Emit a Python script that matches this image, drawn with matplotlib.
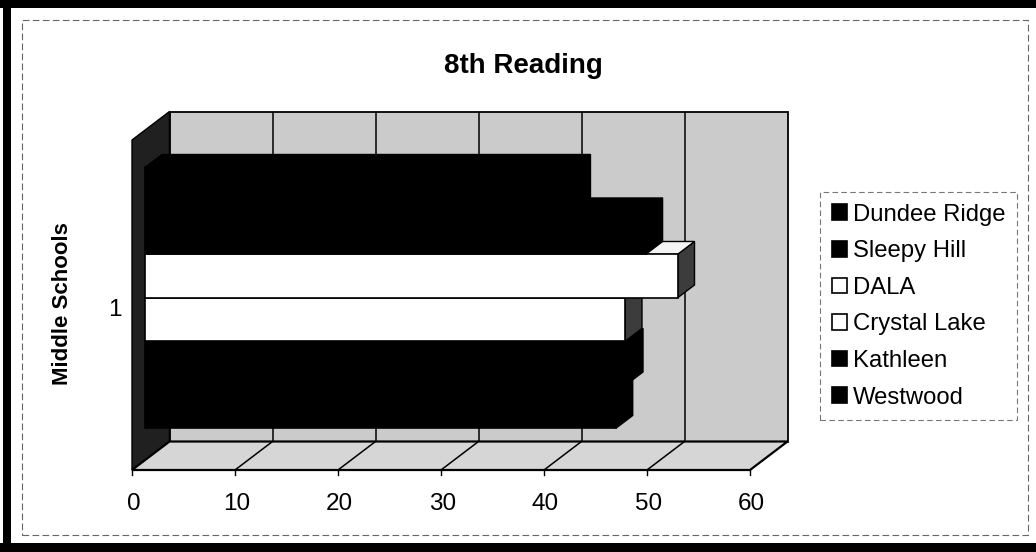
import matplotlib
matplotlib.use("Agg")
import matplotlib.pyplot as plt
from matplotlib.patches import Polygon, Rectangle, Patch

# ---------------- data ----------------
schools = ["Dundee Ridge", "Sleepy Hill", "DALA", "Crystal Lake", "Kathleen", "Westwood"]
scores = [41.6, 48.6, 51.7, 46.6, 46.7, 45.7]
bar_colors = ["black", "black", "white", "white", "black", "black"]
x_ticks = [0, 10, 20, 30, 40, 50, 60]
category_labels = ["1"]
title = "8th Reading"
y_title = "Middle Schools"

# ---------------- figure ----------------
W, H, DPI = 1036, 552, 100
plt.rcParams["font.family"] = ["Liberation Sans", "DejaVu Sans"]
fig = plt.figure(figsize=(W / DPI, H / DPI), dpi=DPI)
fig.patch.set_facecolor("white")

PT = 72.0 / DPI  # points per pixel

# outer black scan border and dashed chart-area border
for (x0, y0, x1, y1) in [(3, 0, 11, H), (0, 0, W, 8), (0, 543, W, H)]:
    fig.patches.append(Rectangle((x0 / W, 1 - y1 / H), (x1 - x0) / W, (y1 - y0) / H,
                                 transform=fig.transFigure, facecolor="black",
                                 edgecolor="none", zorder=0))
fig.patches.append(Rectangle((22 / W, 1 - 535 / H), (1028 - 22) / W, (535 - 20) / H,
                             transform=fig.transFigure, facecolor="none",
                             edgecolor="#666666", lw=0.8, linestyle=(0, (6, 3)), zorder=1))

# plot axes: front floor edge 0..60 -> px 132..750, floor y=470, wall top y=140
AX_L, AX_R, AX_B, AX_T = 132, 750, 470, 140
ax = fig.add_axes([AX_L / W, 1 - AX_B / H, (AX_R - AX_L) / W, (AX_B - AX_T) / H])
XMAX = x_ticks[-1]
YTOP = (AX_B - AX_T) / 43.5  # wall height in bar-slot units
ax.set_xlim(0, XMAX)
ax.set_ylim(0, YTOP)
ax.axis("off")

XPX = (AX_R - AX_L) / XMAX          # px per value unit
YPX = (AX_B - AX_T) / YTOP          # px per slot unit
DXd = 37.5 / XPX                    # depth offset in data units
DYd = 28.5 / YPX
F0, F1 = 0.35, 0.80                 # bar front/back depth fractions
BASE = 0.729                        # bottom of lowest bar (slot units)


def proj(v, y, f):
    return (v + f * DXd, y + f * DYd)


def poly(pts, fc, ec="black", lw=1.0, z=1):
    p = Polygon([proj(*q) for q in pts], closed=True, facecolor=fc, edgecolor=ec,
                lw=lw, zorder=z, clip_on=False, joinstyle="miter")
    ax.add_patch(p)


def seg(a, b, lw=1.0, z=2):
    pa, pb = proj(*a), proj(*b)
    ax.plot([pa[0], pb[0]], [pa[1], pb[1]], color="black", lw=lw, zorder=z,
            clip_on=False, solid_capstyle="butt")


# walls and floor
poly([(0, 0, 1), (XMAX, 0, 1), (XMAX, YTOP, 1), (0, YTOP, 1)], "#cbcbcb", lw=1.3, z=1)
poly([(0, 0, 0), (0, YTOP, 0), (0, YTOP, 1), (0, 0, 1)], "#202020", lw=1.0, z=1)
poly([(0, 0, 0), (XMAX, 0, 0), (XMAX, 0, 1), (0, 0, 1)], "#d6d6d6", lw=1.6, z=1)
for t in x_ticks[1:-1]:
    seg((t, 0, 1), (t, YTOP, 1), lw=1.1, z=2)
    seg((t, 0, 0), (t, 0, 1), lw=1.1, z=2)
for t in x_ticks:
    p = proj(t, 0, 0)
    ax.plot([p[0], p[0]], [p[1], p[1] - 5 / YPX], color="black", lw=1.0,
            clip_on=False, zorder=2)

# bars: drawn from bottom to top so upper front faces hide lower top faces
n = len(schools)
for i in range(n - 1, -1, -1):
    v = scores[i]
    col = bar_colors[i]
    ylo = BASE + (n - 1 - i)
    yhi = ylo + 1.0
    side_c = "black" if col == "black" else "#3c3c3c"
    top_c = "black" if col == "black" else "#f4f4f4"
    poly([(v, ylo, F0), (v, yhi, F0), (v, yhi, F1), (v, ylo, F1)], side_c, lw=1.0, z=3)
    poly([(0, yhi, F0), (v, yhi, F0), (v, yhi, F1), (0, yhi, F1)], top_c, lw=1.0, z=3)
    poly([(0, ylo, F0), (v, ylo, F0), (v, yhi, F0), (0, yhi, F0)], col, lw=1.2, z=3)

# x tick labels
for t in x_ticks:
    ax.annotate(str(t), xy=proj(t, 0, 0), xytext=(1.5 * PT, -40 * PT),
                textcoords="offset points", ha="center", va="baseline", fontsize=17.5,
                annotation_clip=False)

# category label and axis title
mid = BASE + n / 2.0
ax.annotate(category_labels[0], xy=proj(0, mid, 0), xytext=(-17.5 * PT, -8.7 * PT),
            textcoords="offset points", ha="center", va="baseline", fontsize=17.5,
            annotation_clip=False)
ax.annotate(y_title, xy=proj(0, mid, 0), xytext=(-70 * PT, 4 * PT),
            textcoords="offset points", ha="center", va="center", rotation=90,
            fontsize=16, fontweight="bold", annotation_clip=False)

# title
fig.text(523 / W, 1 - 73.3 / H, title, ha="center", va="baseline", fontsize=20,
         fontweight="bold")

# legend
handles = [Patch(facecolor=c, edgecolor="black", lw=1.2) for c in bar_colors]
leg = fig.legend(handles, schools, loc="upper left",
                 bbox_to_anchor=(820 / W, 1 - 191.7 / H), bbox_transform=fig.transFigure,
                 borderaxespad=0, frameon=True, fancybox=False, fontsize=17.2,
                 handlelength=0.62, handleheight=0.62, handletextpad=0.25,
                 labelspacing=0.61, borderpad=0.5)
fr = leg.get_frame()
fr.set_linestyle((0, (5, 3)))
fr.set_edgecolor("#555555")
fr.set_linewidth(0.8)
fr.set_facecolor("white")

fig.savefig("out.png", dpi=DPI)
